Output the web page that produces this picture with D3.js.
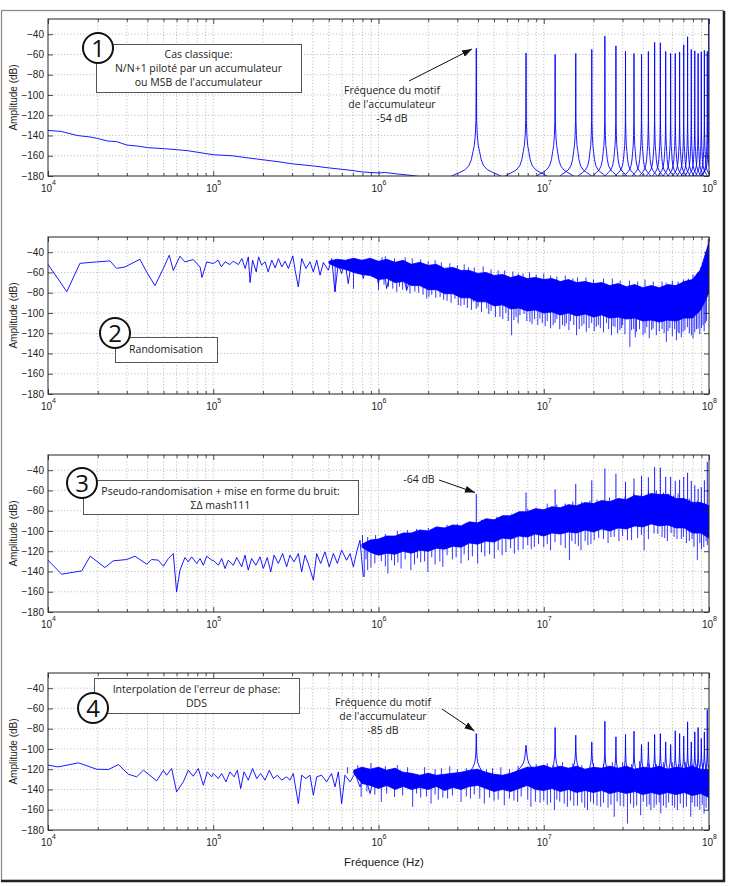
<!DOCTYPE html>
<html>
<head>
<meta charset="utf-8">
<script src="https://cdn.jsdelivr.net/npm/d3@7"></script>
<style>
body{margin:0;background:#fff}
svg{display:block}
</style>
</head>
<body>
<script>
// ---- data ----
const xMajor = [1e4, 1e5, 1e6, 1e7, 1e8]
const yTicks = [-180, -160, -140, -120, -100, -80, -60, -40]

// harmonics of the accumulator pattern (Hz)
const harmonicF = [3.906e6, 7.812e6, 1.172e7, 1.562e7, 1.953e7, 2.344e7, 2.734e7, 3.125e7, 3.516e7, 3.906e7,
  4.297e7, 4.688e7, 5.078e7, 5.469e7, 5.859e7, 6.25e7, 6.641e7, 7.031e7, 7.422e7, 7.812e7,
  8.203e7, 8.594e7, 8.984e7, 9.375e7, 9.766e7]

// shared frequency grid of the dense noise band (Hz)
const bandF = [3.16e5, 3.55e5, 3.98e5, 4.47e5, 5.01e5, 5.62e5, 6.31e5, 7.08e5, 7.94e5, 8.91e5,
  1.0e6, 1.12e6, 1.26e6, 1.41e6, 1.58e6, 1.78e6, 2.0e6, 2.24e6, 2.51e6, 2.82e6,
  3.16e6, 3.55e6, 3.98e6, 4.47e6, 5.01e6, 5.62e6, 6.31e6, 7.08e6, 7.94e6, 8.91e6,
  1.0e7, 1.12e7, 1.26e7, 1.41e7, 1.58e7, 1.78e7, 2.0e7, 2.24e7, 2.51e7, 2.82e7,
  3.16e7, 3.55e7, 3.98e7, 4.47e7, 5.01e7, 5.62e7, 6.31e7, 7.08e7, 7.94e7, 8.91e7, 1.0e8]

// panel 1 : classic N/N+1
const lowLine1 = [[1e4,-135],[1.2e4,-136],[1.5e4,-140],[1.8e4,-141.5],[2e4,-143],[2.3e4,-145.5],[2.6e4,-146],
  [3e4,-149.5],[3.5e4,-150.5],[4e4,-152],[5e4,-153],[6e4,-154],[7e4,-155],[8e4,-156.5],[1e5,-159],
  [1.3e5,-160],[1.6e5,-162],[2e5,-164],[2.5e5,-166],[3e5,-168],[4e5,-170],[5e5,-172],[6.5e5,-174],
  [8e5,-176],[1e6,-177],[1.1e6,-176.5],[1.3e6,-178],[1.6e6,-179.5],[2e6,-182]]
const peaks1 = [-54,-58.5,-60,-59,-55,-42,-51.5,-57,-59,-60,-57,-48,-48.5,-57,-59,-59,-57.5,-50.5,-42.5,-55,
  -56.5,-59,-57.5,-56,-57]
const edgeSpike1 = [9.98e7, -20]
const skirtOff1 = [0.002, 0.006, 0.012, 0.02, 0.03, 0.045, 0.07, 0.1, 0.13, 0.17]
const skirtDb1 = [-125, -140, -150, -156, -164, -170, -174, -176.5, -178.5, -182]
const skirtW1 = [1,0.85,0.75,0.65,0.55,0.5,0.45,0.42,0.4,0.38,0.36,0.34,0.32,0.31,0.3,0.29,0.28,0.27,0.26,0.25,
  0.25,0.24,0.24,0.23,0.23,0.3]

// panel 2 : randomisation
const lowLine2 = [[1e4,-52],[1.3e4,-79],[1.56e4,-51],[1.97e4,-49.6],[2.37e4,-48.6],[2.6e4,-56],[2.92e4,-54.6],
  [3.6e4,-47],[3.95e4,-59.5],[4.44e4,-73],[4.99e4,-56],[5.42e4,-43],[5.73e4,-58],[6.29e4,-44],[6.74e4,-49.6],
  [7.57e4,-47.3],[8.32e4,-54.6],[8.55e4,-65],[9.13e4,-49.6],
  [1.0e5,-51.2],[1.07e5,-47.9],[1.12e5,-54.5],[1.18e5,-49.5],[1.26e5,-52.2],[1.32e5,-48.9],[1.42e5,-52.2],
  [1.49e5,-46.3],[1.56e5,-56.1],[1.63e5,-44.6],[1.67e5,-70],[1.73e5,-47.9],[1.82e5,-59.4],[1.88e5,-44.6],
  [1.96e5,-52.8],[2.06e5,-49.5],[2.15e5,-59.4],[2.26e5,-47.9],[2.37e5,-55.5],[2.48e5,-46.3],[2.6e5,-54.5],
  [2.72e5,-48.9],[2.85e5,-56.1],[3.03e5,-43.6],[3.13e5,-57.8],[3.27e5,-74.2],[3.43e5,-46.3],[3.64e5,-56.1],
  [3.85e5,-49.5],[4.03e5,-59.4],[4.23e5,-47.9],[4.43e5,-62.7],[4.64e5,-50.2],[4.97e5,-57.8],[5.21e5,-46.3],
  [5.45e5,-79.2],[5.71e5,-51.2],[5.98e5,-61.1],[6.27e5,-49.5],[6.56e5,-71],[6.88e5,-47.9],[7.38e5,-59.4],
  [7.73e5,-52.8],[8.09e5,-66],[8.47e5,-51.2],[9.09e5,-61.1],[9.52e5,-52.2],[9.97e5,-71],[1.07e6,-51.2],
  [1.12e6,-75.9],[1.2e6,-54.5],[1.29e6,-67.6],[1.38e6,-56.1],[1.48e6,-77.5],[1.63e6,-56.1],[1.74e6,-66]]
const bandHi2 = [null,null,null,null,-49,-47,-48,-46,-48,-46,
  -49,-47,-50,-48,-52,-50,-53,-52,-56,-55,
  -58,-58,-61,-60,-63,-62,-65,-63,-66,-65,
  -67,-66,-69,-67,-70,-69,-71,-70,-73,-71,
  -74,-72,-75,-73,-75,-72,-73,-69,-67,-57,-30]
const bandLo2 = [null,null,null,null,-51,-55,-57,-60,-62,-63,
  -67,-66,-70,-69,-73,-73,-77,-77,-81,-81,
  -85,-85,-89,-89,-93,-92,-96,-95,-98,-97,
  -100,-99,-102,-100,-103,-101,-104,-102,-105,-104,
  -106,-105,-108,-107,-109,-107,-108,-105,-105,-97,-80]
const downNeedles2 = [[5.47e5,-79],[7.06e5,-75.9],[1e6,-77.5],[1.15e6,-74],[1.29e6,-79.2],[1.4e6,-77],
  [1.55e6,-80.8],[1.75e6,-80],[1.96e6,-85.7],[2.1e6,-82],[2.36e6,-84.1],[2.6e6,-88],[2.9e6,-86],[3.04e6,-92.3],
  [3.3e6,-92],[3.75e6,-89],[4.0e6,-94],[4.52e6,-95.6],[4.8e6,-98],[5.43e6,-103.8],[5.9e6,-100],[6.39e6,-122],
  [6.8e6,-104],[7.18e6,-102.2],[7.6e6,-101],[8.25e6,-108.8],[8.8e6,-106],[9.48e6,-105.5],[1.05e7,-108],
  [1.14e7,-112.1],[1.2e7,-106],[1.3e7,-112],[1.37e7,-110.4],[1.45e7,-108],[1.58e7,-122],[1.7e7,-113],
  [1.81e7,-118.6],[1.95e7,-110],[2.08e7,-113.7],[2.2e7,-115],[2.4e7,-110],[2.57e7,-122],[2.7e7,-114],
  [2.89e7,-117],[3.0e7,-112],[3.32e7,-133.5],[3.5e7,-116],[3.64e7,-118.6],[3.99e7,-122],[4.2e7,-114],
  [4.59e7,-115.4],[5.0e7,-118],[5.52e7,-128.5],[5.8e7,-115],[6.35e7,-126.9],[6.6e7,-120],[6.97e7,-118.6],
  [7.4e7,-114],[7.82e7,-122],[8.2e7,-119],[8.59e7,-115.4],[9.2e7,-112.1],[9.5e7,-110],
  [1.08e6,-72],[1.22e6,-76],[1.34e6,-74],[1.48e6,-78],[1.66e6,-79],[1.86e6,-82],[2.02e6,-84],[2.22e6,-85],
  [2.48e6,-87],[2.75e6,-90],[3.15e6,-93],[3.45e6,-95],[3.65e6,-97],[3.9e6,-96],[4.2e6,-99],[4.65e6,-101],
  [5.1e6,-104],[5.65e6,-106],[6.1e6,-108],[6.6e6,-107],[7.0e6,-110],[7.9e6,-108],[8.5e6,-111],[9.2e6,-112],
  [9.8e6,-110],[1.02e7,-113],[1.1e7,-115],[1.17e7,-110],[1.25e7,-116],[1.34e7,-113],[1.42e7,-117],[1.52e7,-112],
  [1.64e7,-116],[1.75e7,-111],[1.88e7,-115],[2.02e7,-118],[2.14e7,-112],[2.3e7,-119],[2.47e7,-116],[2.63e7,-113],
  [2.8e7,-120],[2.95e7,-115],[3.1e7,-121],[3.4e7,-117],[3.58e7,-124],[3.8e7,-116],[4.1e7,-120],[4.35e7,-125],
  [4.5e7,-117],[4.8e7,-122],[5.2e7,-116],[5.35e7,-120],[5.65e7,-118],[6.0e7,-123],[6.2e7,-116],[6.5e7,-119],
  [6.8e7,-124],[7.15e7,-117],[7.6e7,-120],[8.0e7,-125],[8.4e7,-116],[8.8e7,-121],[9.0e7,-115],[9.35e7,-118],
  [9.65e7,-108]]
const upNeedles2 = [[1.1e6,-44],[1.6e6,-46],[2.4e6,-50],[3.5e6,-55],[5.3e6,-58],[7.5e6,-61],[1.1e7,-63],
  [1.6e7,-65],[2.3e7,-66],[3.3e7,-68],[4.6e7,-69],[6.0e7,-68],[8.0e7,-62],[9.3e7,-50],[9.7e7,-40],[9.9e7,-27],
  [1.05e6,-45],[1.25e6,-46],[1.45e6,-45],[1.8e6,-47],[2.0e6,-49],[2.2e6,-48],[2.7e6,-51],[3.0e6,-53],
  [3.3e6,-52],[3.8e6,-55],[4.3e6,-54],[4.8e6,-57],[5.8e6,-58],[6.5e6,-59],[7.0e6,-61],[8.2e6,-60],[9.0e6,-62],
  [1.0e7,-61],[1.2e7,-64],[1.35e7,-63],[1.5e7,-66],[1.8e7,-65],[2.0e7,-67],[2.6e7,-66],[2.9e7,-68],[3.7e7,-69],
  [4.1e7,-67],[5.2e7,-69],[5.5e7,-70],[6.5e7,-69],[7.0e7,-67],[7.5e7,-66],[8.5e7,-60],[8.9e7,-55],[9.5e7,-45]]

// panel 3 : sigma-delta mash111
const lowLine3 = [[1e4,-128.8],[1.21e4,-142.7],[1.36e4,-141.3],[1.6e4,-139.4],[1.8e4,-124.9],[2.21e4,-136.1],
  [2.48e4,-129.5],[2.99e4,-128.2],[3.36e4,-124.9],[3.96e4,-132.8],[4.24e4,-128.2],[4.65e4,-128.8],
  [4.99e4,-134.8],[5.35e4,-127.2],[5.73e4,-122.3],[6.0e4,-160.1],[6.29e4,-138.7],[6.74e4,-126.2],
  [7.06e4,-130.5],[7.4e4,-125.6],[7.94e4,-132.1],[8.32e4,-127.2],[8.71e4,-133.8],[9.12e4,-124.9],[9.78e4,-128.8],
  [1.0e5,-128.9],[1.074e5,-133.8],[1.125e5,-127.2],[1.178e5,-137.1],[1.233e5,-128.9],[1.324e5,-133.8],
  [1.387e5,-126.2],[1.486e5,-135.4],[1.556e5,-123.9],[1.629e5,-138.7],[1.706e5,-127.2],[1.811e5,-133.8],
  [1.919e5,-125.6],[2.009e5,-137.1],[2.123e5,-126.2],[2.228e5,-140.4],[2.333e5,-123.9],[2.477e5,-132.1],
  [2.63e5,-122.3],[2.78e5,-135.4],[2.911e5,-123.9],[3.083e5,-130.5],[3.273e5,-122.3],[3.428e5,-140.4],
  [3.589e5,-123.9],[3.758e5,-132.1],[4.036e5,-148.6],[4.227e5,-122.3],[4.467e5,-132.1],[4.742e5,-120.6],
  [5.035e5,-135.4],[5.333e5,-122.3],[5.636e5,-132.1],[5.984e5,-119],[6.412e5,-128.9],[6.73e5,-122.3],
  [7.047e5,-135.4],[7.379e5,-120.6],[7.727e5,-109.1],[8.091e5,-145.3]]
const bandHi3 = [null,null,null,null,null,null,null,null,-113,-109,
  -108,-105,-105,-102,-102,-99,-100,-96,-97,-94,
  -95,-91,-92,-88,-89,-85,-85,-81,-81,-78,
  -79,-76,-77,-74,-75,-72,-73,-70,-71,-68,
  -69,-65,-66,-63,-64,-64,-68,-68,-72,-72,-75]
const bandLo3 = [null,null,null,null,null,null,null,null,-116,-121,
  -124,-122,-123,-120,-122,-119,-120,-117,-118,-115,
  -116,-112,-113,-110,-111,-107,-108,-105,-106,-103,
  -105,-102,-103,-101,-102,-99,-101,-98,-100,-97,
  -98,-95,-96,-93,-95,-94,-97,-97,-102,-102,-107]
const peaks3 = [-63.7,-62,-59,-53.5,-50,-38.3,-43.5,-51.5,-48.2,-45.5,-47,-37,-37.4,-46.5,-46.5,-50.5,-49.5,
  -46.6,-42.5,-50.5,-54.8,-58.5,-56.8,-50,-31.8]
const downNeedles3 = [[8.2e5,-145.3],[8.6e5,-138.7],[9.5e5,-132],[1.14e6,-142],[1.25e6,-134],[1.37e6,-137.1],
  [1.57e6,-138.7],[1.8e6,-131],[1.99e6,-140.4],[2.2e6,-133],[2.45e6,-135.4],[2.8e6,-128],[3.16e6,-132.1],
  [3.5e6,-129],[3.98e6,-132.1],[4.4e6,-125],[5.02e6,-127.2],[5.6e6,-124],[6.64e6,-122.3],[7.5e6,-118],
  [8.77e6,-115.7],[1.0e7,-116],[1.1e7,-119],[1.27e7,-114],[1.43e7,-128.8],[1.55e7,-113],[1.68e7,-119],
  [1.85e7,-114],[2.02e7,-109.1],[2.3e7,-108],[2.67e7,-105.8],[3.21e7,-109.1],[3.7e7,-107],[4.05e7,-119],
  [4.65e7,-102.5],[5.2e7,-106],[5.6e7,-110],[6.15e7,-105.8],[6.8e7,-108],[7.3e7,-112],[8.11e7,-115.7],
  [8.5e7,-128.8],[9.0e7,-118],[9.77e7,-114],
  [8.4e5,-128],[9.0e5,-136],[1.04e6,-130],[1.1e6,-135],[1.2e6,-129],[1.31e6,-131],[1.45e6,-128],[1.65e6,-133],
  [1.72e6,-127],[1.9e6,-130],[2.1e6,-126],[2.35e6,-130],[2.6e6,-124],[2.95e6,-126],[3.3e6,-123],[3.7e6,-125],
  [4.2e6,-121],[4.7e6,-123],[5.3e6,-119],[5.9e6,-121],[6.3e6,-117],[7.0e6,-119],[8.0e6,-114],[8.4e6,-118],
  [9.3e6,-113],[1.05e7,-113],[1.17e7,-111],[1.35e7,-117],[1.48e7,-110],[1.62e7,-115],[1.78e7,-110],[1.93e7,-113],
  [2.15e7,-107],[2.45e7,-112],[2.55e7,-106],[2.85e7,-110],[3.0e7,-105],[3.4e7,-109],[3.9e7,-104],[4.3e7,-108],
  [4.9e7,-103],[5.4e7,-107],[5.9e7,-102],[6.4e7,-108],[7.0e7,-106],[7.6e7,-110],[7.9e7,-108],[8.8e7,-112],
  [9.3e7,-116],[9.6e7,-110]]
const upNeedles3 = [[8.0e5,-104],[1.3e6,-100],[2.0e6,-97],[3.0e6,-93],[4.6e6,-88],[7.0e6,-82],[1.05e7,-73],
  [1.5e7,-71],[2.5e7,-67],[3.5e7,-63],[4.8e7,-60],[6.5e7,-63],[8.5e7,-70],
  [8.6e5,-106],[9.6e5,-104],[1.1e6,-103],[1.5e6,-99],[1.7e6,-98],[2.3e6,-96],[2.6e6,-94],[3.4e6,-92],[4.2e6,-89],
  [5.2e6,-86],[5.8e6,-85],[6.4e6,-83],[8.0e6,-78],[9.0e6,-77],[1.2e7,-74],[1.35e7,-73],[1.7e7,-71],[1.9e7,-70],
  [2.1e7,-69],[2.8e7,-68],[3.1e7,-66],[3.9e7,-63],[4.3e7,-61],[5.3e7,-62],[5.7e7,-63],[6.1e7,-65],[7.0e7,-68],
  [7.6e7,-68],[8.0e7,-71],[9.0e7,-71],[9.5e7,-73]]

// panel 4 : DDS phase error interpolation
const lowLine4 = [[1e4,-116],[1.15e4,-117.7],[1.53e4,-113.7],[1.97e4,-120],[2.32e4,-120.3],[2.67e4,-115.4],
  [3.06e4,-124.9],[3.44e4,-127.5],[3.78e4,-121],[4.55e4,-131.5],[4.99e4,-121],[5.22e4,-125.9],[5.6e4,-119.3],
  [6.0e4,-142.3],[6.59e4,-132.5],[7.06e4,-121],[7.57e4,-126.9],[8.12e4,-119.3],[8.71e4,-135.8],[9.2e4,-122.6],
  [9.78e4,-127.5],[1.0e5,-124.2],[1.074e5,-129.2],[1.125e5,-124.2],[1.194e5,-132.5],[1.262e5,-122.6],
  [1.337e5,-127.5],[1.4e5,-121],[1.466e5,-139],[1.535e5,-122.6],[1.629e5,-130.8],[1.73e5,-119.3],
  [1.832e5,-129.2],[1.936e5,-124.2],[2.056e5,-130.8],[2.183e5,-121],[2.312e5,-129.2],[2.443e5,-125.9],
  [2.594e5,-130.8],[2.78e5,-127.5],[2.911e5,-130.8],[3.048e5,-124.2],[3.273e5,-153.9],[3.428e5,-125.9],
  [3.639e5,-129.2],[3.846e5,-125.9],[4.036e5,-145.6],[4.227e5,-127.5],[4.529e5,-125.9],[4.853e5,-132.5],
  [5.2e5,-124.2],[5.458e5,-137.4],[5.715e5,-122.6],[5.984e5,-153.9],[6.266e5,-125.9],[6.73e5,-132.5],
  [7.21e5,-124.2],[7.727e5,-137.4],[8.279e5,-125.9],[8.89e5,-144],[9.53e5,-122.6],[1.02e6,-130.8]]
const bandHi4 = [null,null,null,null,null,null,null,-121,-118,-120,
  -118,-121,-119,-123,-124,-126,-124,-126,-125,-124,
  -123,-121,-120,-123,-125,-126,-124,-121,-118,-118,
  -116,-119,-117,-119,-117,-120,-118,-119,-117,-119,
  -117,-120,-118,-119,-117,-120,-118,-119,-117,-120,-121]
const bandLo4 = [null,null,null,null,null,null,null,-124,-134,-136,
  -139,-136,-140,-137,-140,-138,-140,-137,-141,-138,
  -140,-137,-136,-139,-142,-140,-142,-139,-136,-140,
  -141,-139,-142,-140,-143,-141,-143,-141,-144,-142,
  -144,-142,-145,-143,-145,-143,-145,-143,-146,-144,-148]
const peaks4 = [-84.8,-96.3,-78.8,-86.4,-93,-72.6,-88,-85.7,-82.5,-95.6,-93,-85.7,-84.8,-93,-95.6,-82.1,
  -84.8,-87.4,-73.2,-93,-83.1,-78.8,-89.7,-83.1,-61.7]
const skirtOff4 = [0.002, 0.005, 0.01, 0.02, 0.035]
const skirtDb4 = [-102, -109, -114, -118, -122]
const skirtW4 = [1,1.6,0.8,0.8,0.6,0.5,0.4,0.4,0.4,0.4,0.4,0.4,0.4,0.4,0.4,0.4,0.4,0.4,0.4,0.4,0.4,0.4,0.4,0.4,0.4]
const downNeedles4 = [[7.85e5,-147.3],[1.04e6,-152.2],[1.25e6,-147.3],[1.61e6,-157.1],[1.8e6,-148],
  [2.08e6,-153.9],[2.3e6,-150],[2.62e6,-148.9],[3.16e6,-152.2],[3.6e6,-149],[4.37e6,-153.9],[5.0e6,-151],
  [5.77e6,-155.5],[6.95e6,-152.2],[8.36e6,-157.1],[9.5e6,-153],[1.05e7,-155],[1.16e7,-160.4],[1.25e7,-152],
  [1.39e7,-157.1],[1.6e7,-156],[1.84e7,-160.4],[2.0e7,-154],[2.21e7,-157.1],[2.45e7,-158],[2.67e7,-167],
  [2.9e7,-156],[3.21e7,-173.6],[3.5e7,-158],[3.86e7,-165.4],[4.2e7,-157],[4.45e7,-160.4],[4.8e7,-155],
  [5.11e7,-163.7],[5.5e7,-158],[6.0e7,-156],[6.44e7,-160.4],[7.0e7,-158],[7.75e7,-167],[8.2e7,-157],
  [8.8e7,-160],[9.33e7,-163.7],[9.95e7,-160.4],
  [8.5e5,-142],[9.5e5,-145],[1.12e6,-144],[1.4e6,-146],[1.7e6,-144],[1.95e6,-147],[2.2e6,-145],[2.45e6,-148],
  [2.8e6,-146],[3.4e6,-147],[3.8e6,-145],[4.1e6,-149],[4.7e6,-148],[5.3e6,-150],[6.2e6,-149],[6.6e6,-151],
  [7.3e6,-147],[8.0e6,-150],[8.9e6,-152],[1.0e7,-151],[1.1e7,-153],[1.2e7,-150],[1.33e7,-154],[1.45e7,-151],
  [1.52e7,-156],[1.7e7,-153],[1.77e7,-158],[1.92e7,-152],[2.1e7,-156],[2.3e7,-153],[2.55e7,-155],[2.78e7,-152],
  [3.05e7,-157],[3.35e7,-154],[3.65e7,-156],[4.0e7,-152],[4.35e7,-155],[4.65e7,-158],[5.0e7,-153],[5.3e7,-156],
  [5.7e7,-153],[6.2e7,-158],[6.7e7,-154],[7.3e7,-157],[7.9e7,-153],[8.5e7,-157],[9.1e7,-155],[9.6e7,-158]]
const upNeedles4 = [[6.5e5,-118],[9.0e5,-114],[1.3e6,-116],[1.9e6,-118],[2.7e6,-117],[5.5e6,-118],
  [1.3e7,-113],[2.0e7,-114],[3.0e7,-113],[4.3e7,-114],[6.0e7,-113],[8.5e7,-114],
  [7.5e5,-116],[8.2e5,-119],[1.1e6,-117],[1.5e6,-118],[2.2e6,-120],[2.4e6,-119],[3.0e6,-120],[3.4e6,-119],
  [4.5e6,-120],[4.9e6,-119],[6.2e6,-120],[7.0e6,-117],[9.0e6,-115],[1.05e7,-114],[1.15e7,-116],[1.5e7,-114],
  [1.7e7,-116],[2.3e7,-115],[2.6e7,-113],[3.4e7,-115],[3.8e7,-112],[4.8e7,-115],[5.3e7,-113],[6.6e7,-115],
  [7.2e7,-113],[7.8e7,-115],[9.2e7,-114],[9.7e7,-115]]

// ---- layout ----
const W = 730, H = 886
const left = 48, right = 709, plotH = 157
const tops = [19, 237, 455, 673]
const blue = "#0000ff"
const tickFont = "'Liberation Sans', Arial, sans-serif"
const noteFont = "'Open Sans', 'DejaVu Sans', sans-serif"

const panels = [
  {line: lowLine1, spikeF: harmonicF.concat([edgeSpike1[0]]), peaks: peaks1.concat([edgeSpike1[1]]),
   skirtOff: skirtOff1, skirtDb: skirtDb1, skirtW: skirtW1},
  {line: lowLine2, hi: bandHi2, lo: bandLo2, down: downNeedles2, up: upNeedles2},
  {line: lowLine3, hi: bandHi3, lo: bandLo3, down: downNeedles3, up: upNeedles3, spikeF: harmonicF, peaks: peaks3},
  {line: lowLine4, hi: bandHi4, lo: bandLo4, down: downNeedles4, up: upNeedles4, spikeF: harmonicF, peaks: peaks4,
   skirtOff: skirtOff4, skirtDb: skirtDb4, skirtW: skirtW4}
]

const svg = d3.select("body").append("svg").attr("width", W).attr("height", H)
  .style("font-family", tickFont)

// outer frame
svg.append("rect").attr("x", 1.5).attr("y", 10.5).attr("width", 722).attr("height", 870)
  .attr("fill", "none").attr("stroke", "#888").attr("stroke-width", 1.2)
svg.append("line").attr("x1", 724).attr("x2", 724).attr("y1", 11).attr("y2", 882)
  .attr("stroke", "#222").attr("stroke-width", 2.5)
svg.append("line").attr("x1", 1).attr("x2", 725).attr("y1", 881).attr("y2", 881)
  .attr("stroke", "#222").attr("stroke-width", 2.5)

const defs = svg.append("defs")
defs.append("marker").attr("id", "arrow").attr("viewBox", "0 0 10 10")
  .attr("refX", 10).attr("refY", 5).attr("markerWidth", 10).attr("markerHeight", 10)
  .attr("markerUnits", "userSpaceOnUse").attr("orient", "auto")
  .append("path").attr("d", "M0,1.5 L10,5 L0,8.5 Z").attr("fill", "#111")

const x = d3.scaleLog().domain([1e4, 1e8]).range([left, right])
const gridX = x.ticks().filter(d => d > 1e4 && d < 1e8)
const minorX = x.ticks().filter(d => !xMajor.includes(d))

// value of a band edge at frequency f (linear in log f)
function bandAt(vals, f) {
  const i = d3.bisectLeft(bandF, f)
  if (i <= 0) return vals[0]
  if (i >= bandF.length) return vals[bandF.length - 1]
  const a = vals[i - 1], b = vals[i]
  if (a == null) return b
  if (b == null) return a
  const t = (Math.log10(f) - Math.log10(bandF[i - 1])) / (Math.log10(bandF[i]) - Math.log10(bandF[i - 1]))
  return a + (b - a) * t
}

panels.forEach((p, i) => {
  const top = tops[i], bot = top + plotH
  const y = d3.scaleLinear().domain([-180, -25]).range([bot, top])
  const g = svg.append("g")

  // grid
  const grid = g.append("g").attr("stroke", "#9a9a9a").attr("stroke-width", 0.7)
    .attr("stroke-dasharray", "1,2.2")
  grid.selectAll("line.gx").data(gridX).join("line").attr("class", "gx")
    .attr("x1", d => x(d)).attr("x2", d => x(d)).attr("y1", top).attr("y2", bot)
  grid.selectAll("line.gy").data(yTicks.filter(d => d > -180)).join("line").attr("class", "gy")
    .attr("x1", left).attr("x2", right).attr("y1", d => y(d)).attr("y2", d => y(d))

  // data
  svg.append("clipPath").attr("id", "clip" + i).append("rect")
    .attr("x", left).attr("y", top).attr("width", right - left).attr("height", plotH)
  const dg = g.append("g").attr("clip-path", `url(#clip${i})`)

  const line = d3.line().x(d => x(d[0])).y(d => y(d[1]))

  if (p.hi) {
    const area = d3.area().defined((d, k) => p.hi[k] != null)
      .x(d => x(d)).y0((d, k) => y(p.lo[k])).y1((d, k) => y(p.hi[k]))
    dg.append("path").attr("d", area(bandF)).attr("fill", blue)
      .attr("stroke", blue).attr("stroke-width", 0.8)
    dg.selectAll("line.dn").data(p.down).join("line").attr("class", "dn")
      .attr("x1", d => x(d[0])).attr("x2", d => x(d[0]))
      .attr("y1", d => y(bandAt(p.hi, d[0]))).attr("y2", d => y(d[1]))
      .attr("stroke", blue).attr("stroke-width", 0.8)
    dg.selectAll("line.up").data(p.up).join("line").attr("class", "up")
      .attr("x1", d => x(d[0])).attr("x2", d => x(d[0]))
      .attr("y1", d => y(bandAt(p.lo, d[0]))).attr("y2", d => y(d[1]))
      .attr("stroke", blue).attr("stroke-width", 0.8)
  }

  dg.append("path").attr("d", line(p.line)).attr("fill", "none")
    .attr("stroke", blue).attr("stroke-width", 0.9).attr("stroke-linejoin", "round")

  if (p.spikeF) {
    p.spikeF.forEach((f, k) => {
      let pts
      if (p.skirtOff) {
        const w = p.skirtW[k]
        const lf = p.skirtOff.map((o, j) => [f * Math.pow(10, -o * w), p.skirtDb[j]]).reverse()
        const rt = p.skirtOff.map((o, j) => [f * Math.pow(10, o * w), p.skirtDb[j]])
        pts = lf.concat([[f, p.peaks[k]]], rt)
      } else {
        pts = [[f, bandAt(p.hi, f)], [f, p.peaks[k]]]
      }
      dg.append("path").attr("d", line(pts)).attr("fill", "none")
        .attr("stroke", blue).attr("stroke-width", 0.9)
    })
  }

  // axes (ticks inward on all four sides)
  const axL = g.append("g").attr("transform", `translate(${left},0)`)
    .call(d3.axisLeft(y).tickValues(yTicks).tickSize(-5).tickPadding(4))
  const axR = g.append("g").attr("transform", `translate(${right},0)`)
    .call(d3.axisRight(y).tickValues(yTicks).tickSize(-5).tickFormat(""))
  const axB = g.append("g").attr("transform", `translate(0,${bot})`)
    .call(d3.axisBottom(x).tickValues(xMajor).tickSize(-5).tickPadding(9))
  const axBm = g.append("g").attr("transform", `translate(0,${bot})`)
    .call(d3.axisBottom(x).tickValues(minorX).tickSize(-3).tickFormat(""))
  const axT = g.append("g").attr("transform", `translate(0,${top})`)
    .call(d3.axisTop(x).tickValues(xMajor).tickSize(-5).tickFormat(""))
  const axTm = g.append("g").attr("transform", `translate(0,${top})`)
    .call(d3.axisTop(x).tickValues(minorX).tickSize(-3).tickFormat(""))
  ;[axL, axR, axB, axBm, axT, axTm].forEach(a => {
    a.select(".domain").remove()
    a.selectAll(".tick line").attr("stroke", "#222").attr("stroke-width", 0.8)
    a.selectAll("text").attr("fill", "#222").style("font-size", "10px").style("font-family", tickFont)
  })
  axB.selectAll(".tick text").text(null).each(function (d) {
    const t = d3.select(this)
    t.append("tspan").text("10")
    t.append("tspan").attr("dy", -7).style("font-size", "7px").text(Math.round(Math.log10(d)))
  })

  g.append("rect").attr("x", left).attr("y", top).attr("width", right - left).attr("height", plotH)
    .attr("fill", "none").attr("stroke", "#222").attr("stroke-width", 1)

  g.append("text").attr("transform", `translate(17,${(top + bot) / 2}) rotate(-90)`)
    .attr("text-anchor", "middle").style("font-size", "10px").attr("fill", "#222")
    .text("Amplitude (dB)")
})

svg.append("text").attr("x", 384).attr("y", 866).attr("text-anchor", "middle")
  .style("font-size", "11.5px").attr("fill", "#222").text("Fréquence (Hz)")

// ---- annotations ----
const notes = svg.append("g").style("font-family", noteFont).style("font-size", "10.5px").attr("fill", "#222")

function box(x0, y0, x1, y1, lines, baselines) {
  notes.append("rect").attr("x", x0 + 0.5).attr("y", y0 + 0.5).attr("width", x1 - x0).attr("height", y1 - y0)
    .attr("fill", "#fff").attr("stroke", "#555").attr("stroke-width", 1)
  lines.forEach((s, k) => notes.append("text").attr("x", (x0 + x1) / 2).attr("y", baselines[k])
    .attr("text-anchor", "middle").text(s))
}
function badge(cx, cy, s) {
  notes.append("circle").attr("cx", cx).attr("cy", cy).attr("r", 15)
    .attr("fill", "#fff").attr("stroke", "#111").attr("stroke-width", 2)
  notes.append("text").attr("x", cx).attr("y", cy + 8.5).attr("text-anchor", "middle")
    .style("font-size", "24px").attr("fill", "#111").text(s)
}
function label(cx, lines, baselines) {
  lines.forEach((s, k) => notes.append("text").attr("x", cx).attr("y", baselines[k])
    .attr("text-anchor", "middle").text(s))
}
function arrow(x1, y1, x2, y2) {
  notes.append("line").attr("x1", x1).attr("y1", y1).attr("x2", x2).attr("y2", y2)
    .attr("stroke", "#111").attr("stroke-width", 1).attr("marker-end", "url(#arrow)")
}

box(96, 44, 301, 92, ["Cas classique:", "N/N+1 piloté par un accumulateur", "ou MSB de l'accumulateur"], [57.5, 72, 86])
badge(98, 48, "1")
label(392, ["Fréquence du motif", "de l'accumulateur", "-54 dB"], [93.5, 108, 122])
arrow(409, 81, 472, 49)

box(115, 337, 217, 362, ["Randomisation"], [353])
badge(115, 333, "2")

box(83, 480, 358, 514, ["Pseudo-randomisation + mise en forme du bruit:", "ΣΔ mash111"], [495, 508.5])
badge(82, 483, "3")
label(419, ["-64 dB"], [482.5])
arrow(439, 480, 475, 492.5)

box(94, 678, 299, 713, ["Interpolation de l'erreur de phase:", "DDS"], [692.5, 707])
badge(93, 708, "4")
label(383, ["Fréquence du motif", "de l'accumulateur", "-85 dB"], [705.5, 720, 734])
arrow(442, 709, 474.5, 731)
</script>
</body>
</html>
